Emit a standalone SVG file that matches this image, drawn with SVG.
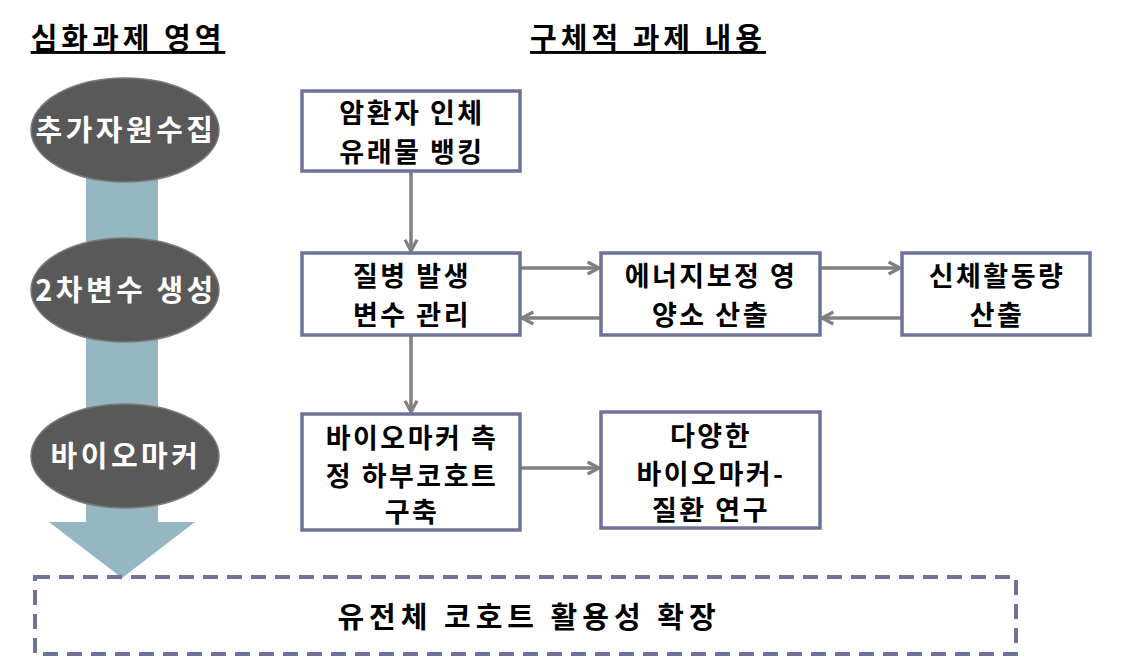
<svg xmlns="http://www.w3.org/2000/svg" width="1130" height="669" viewBox="0 0 1130 669">
<defs>
<style>
.t{font-family:"Noto Sans CJK KR","Noto Sans",sans-serif;font-weight:bold;text-anchor:middle}
.hdr{font-size:29px;fill:#000;text-decoration:underline;letter-spacing:4px}
.el{fill:#595959;stroke:#7a7a7a;stroke-width:1.5}
.elt{font-size:29px;fill:#fff;letter-spacing:3.5px}
.box{fill:#fff;stroke:#6f7399;stroke-width:3.5}
.bt{font-size:27px;fill:#000;letter-spacing:2.5px}
.c{stroke:#808080;stroke-width:3.5;fill:none;marker-end:url(#ah)}
</style>
<marker id="ah" viewBox="0 0 12 12" refX="10.5" refY="6" markerWidth="16" markerHeight="16" markerUnits="userSpaceOnUse" orient="auto" overflow="visible">
<path d="M2,1.5 L10.5,6 L2,10.5" fill="none" stroke="#808080" stroke-width="2.4"/>
</marker>
</defs>
<rect width="1130" height="669" fill="#fff"/>
<g id="headers">
<text class="t hdr" x="128" y="49">심화과제 영역</text>
<text class="t hdr" x="648" y="49">구체적 과제 내용</text>
</g>
<g id="bigArrow">
<path d="M86,175 L158,175 L158,522 L195,522 L122,578 L49,522 L86,522 Z" fill="#95b7c1"/>
</g>
<g id="area1">
<ellipse class="el" cx="125" cy="130" rx="94" ry="52"/>
<text class="t elt" x="126" y="141">추가자원수집</text>
</g>
<g id="area2">
<ellipse class="el" cx="125" cy="290" rx="94" ry="52"/>
<text class="t elt" x="126" y="301">2차변수 생성</text>
</g>
<g id="area3">
<ellipse class="el" cx="125" cy="456" rx="94" ry="52"/>
<text class="t elt" x="126" y="467">바이오마커</text>
</g>
<g id="connectors">
<line class="c" x1="411" y1="172" x2="411" y2="251"/>
<line class="c" x1="520" y1="268" x2="599" y2="268"/>
<line class="c" x1="601" y1="318" x2="522" y2="318"/>
<line class="c" x1="820" y1="268" x2="900" y2="268"/>
<line class="c" x1="902" y1="318" x2="822" y2="318"/>
<line class="c" x1="411" y1="336" x2="411" y2="412"/>
<line class="c" x1="520" y1="468" x2="599" y2="468"/>
</g>
<g id="box1">
<rect class="box" x="302" y="91" width="218" height="80"/>
<text class="t bt" x="412" y="123">암환자 인체</text>
<text class="t bt" x="412" y="162">유래물 뱅킹</text>
</g>
<g id="box2">
<rect class="box" x="302" y="253" width="218" height="82"/>
<text class="t bt" x="412" y="286">질병 발생</text>
<text class="t bt" x="412" y="325">변수 관리</text>
</g>
<g id="box3">
<rect class="box" x="601" y="253" width="219" height="82"/>
<text class="t bt" x="711" y="286">에너지보정 영</text>
<text class="t bt" x="711" y="325">양소 산출</text>
</g>
<g id="box4">
<rect class="box" x="902" y="253" width="188" height="82"/>
<text class="t bt" x="997" y="286">신체활동량</text>
<text class="t bt" x="997" y="325">산출</text>
</g>
<g id="box5">
<rect class="box" x="302" y="414" width="218" height="116"/>
<text class="t bt" x="412" y="448">바이오마커 측</text>
<text class="t bt" x="412" y="486">정 하부코호트</text>
<text class="t bt" x="412" y="522">구축</text>
</g>
<g id="box6">
<rect class="box" x="601" y="412" width="219" height="116"/>
<text class="t bt" x="711" y="446">다양한</text>
<text class="t bt" x="711" y="484">바이오마커-</text>
<text class="t bt" x="711" y="520">질환 연구</text>
</g>
<g id="bottom">
<rect x="35" y="577" width="981" height="77" fill="none" stroke="#6f7399" stroke-width="4" stroke-dasharray="15,9"/>
<text class="t" x="529" y="628" font-size="29" fill="#000" letter-spacing="5">유전체 코호트 활용성 확장</text>
</g>
</svg>
